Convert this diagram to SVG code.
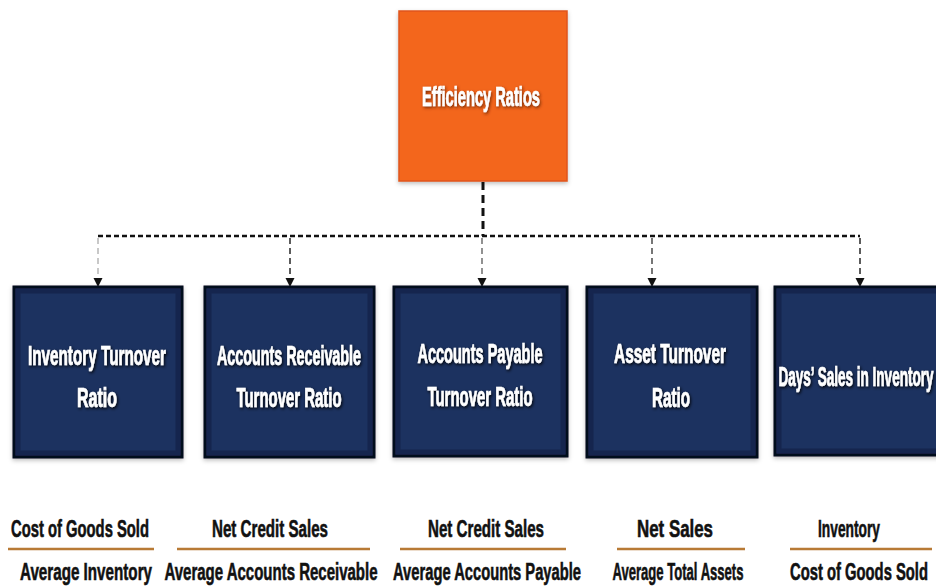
<svg xmlns="http://www.w3.org/2000/svg" width="936" height="588" viewBox="0 0 936 588">
  <style>
    .head { fill: #F3661F; stroke: #E0561A; stroke-width: 1.5; }
    .box { fill: #1F3161; stroke: #060B1C; stroke-width: 3; }
    .rim { fill: none; stroke: #14224A; stroke-width: 5; opacity: 0.8; }
    .lbl { font-family: "Liberation Sans", Arial, sans-serif; font-weight: bold; font-size: 28px; fill: #FFFFFF; stroke: #FFFFFF; stroke-width: 0.7; text-anchor: middle; }
    .fx { font-family: "Liberation Sans", Arial, sans-serif; font-weight: bold; font-size: 24px; fill: #111111; stroke: #111111; stroke-width: 0.6; text-anchor: middle; }
    .bar { stroke: #B87A35; stroke-width: 2.5; }
    .trunk { fill: none; stroke: #111111; stroke-width: 3; stroke-dasharray: 8 5; }
    .bus { fill: none; stroke: #111111; stroke-width: 2.5; stroke-dasharray: 5 3; }
    .drop { fill: none; stroke-width: 1.6; stroke-dasharray: 6 4; }
  </style>
  <defs>
    <filter id="glow" x="-20%" y="-40%" width="140%" height="180%">
      <feDropShadow dx="1" dy="1.5" stdDeviation="1.5" flood-color="#000000" flood-opacity="0.95"/>
    </filter>
    <filter id="warm" x="-20%" y="-40%" width="140%" height="180%">
      <feDropShadow dx="1" dy="1.5" stdDeviation="1.5" flood-color="#6A2200" flood-opacity="0.9"/>
    </filter>
    <filter id="soft" x="-10%" y="-10%" width="120%" height="125%">
      <feDropShadow dx="0" dy="2" stdDeviation="2" flood-color="#000000" flood-opacity="0.25"/>
    </filter>
    <marker id="tip" markerUnits="userSpaceOnUse" markerWidth="9" markerHeight="10" refX="9" refY="4.5" orient="auto">
      <path d="M0,0 L9,4.5 L0,9 z" fill="#111111"/>
    </marker>
  </defs>

  <!-- connectors: trunk from the head, shared bus, one drop per ratio -->
  <g id="connectors">
    <line class="trunk" x1="483" y1="182" x2="483" y2="236"/>
    <line class="bus" x1="98" y1="236" x2="860" y2="236"/>
    <line class="drop" stroke="#BBBBBB" x1="98" y1="238" x2="98" y2="287" marker-end="url(#tip)"/>
    <line class="drop" stroke="#333333" x1="290" y1="238" x2="290" y2="287" marker-end="url(#tip)"/>
    <line class="drop" stroke="#777777" x1="482" y1="238" x2="482" y2="287" marker-end="url(#tip)"/>
    <line class="drop" stroke="#555555" x1="652" y1="238" x2="652" y2="287" marker-end="url(#tip)"/>
    <line class="drop" stroke="#333333" x1="860" y1="238" x2="860" y2="287" marker-end="url(#tip)"/>
  </g>

  <g id="efficiency-ratios">
    <rect class="head" x="399" y="11" width="168" height="170" filter="url(#soft)"/>
    <text class="lbl" x="481" y="106" textLength="118" lengthAdjust="spacingAndGlyphs" filter="url(#warm)">Efficiency Ratios</text>
  </g>

  <g id="inventory-turnover">
    <rect class="box" x="14" y="287" width="168" height="170" filter="url(#soft)"/>
    <rect class="rim" x="18" y="291" width="160" height="162"/>
    <g filter="url(#glow)">
      <text class="lbl" x="97" y="365" textLength="138" lengthAdjust="spacingAndGlyphs">Inventory Turnover</text>
      <text class="lbl" x="97" y="407" textLength="40" lengthAdjust="spacingAndGlyphs">Ratio</text>
    </g>
    <text class="fx" x="80" y="537" textLength="138" lengthAdjust="spacingAndGlyphs">Cost of Goods Sold</text>
    <line class="bar" x1="8" y1="549" x2="154" y2="549"/>
    <text class="fx" x="86" y="580" textLength="132" lengthAdjust="spacingAndGlyphs">Average Inventory</text>
  </g>

  <g id="receivable-turnover">
    <rect class="box" x="205" y="287" width="169" height="170" filter="url(#soft)"/>
    <rect class="rim" x="209" y="291" width="161" height="162"/>
    <g filter="url(#glow)">
      <text class="lbl" x="289" y="365" textLength="144" lengthAdjust="spacingAndGlyphs">Accounts Receivable</text>
      <text class="lbl" x="289" y="407" textLength="105" lengthAdjust="spacingAndGlyphs">Turnover Ratio</text>
    </g>
    <text class="fx" x="270" y="537" textLength="116" lengthAdjust="spacingAndGlyphs">Net Credit Sales</text>
    <line class="bar" x1="177" y1="549" x2="370" y2="549"/>
    <text class="fx" x="271" y="580" textLength="213" lengthAdjust="spacingAndGlyphs">Average Accounts Receivable</text>
  </g>

  <g id="payable-turnover">
    <rect class="box" x="394" y="287" width="173" height="169" filter="url(#soft)"/>
    <rect class="rim" x="398" y="291" width="165" height="161"/>
    <g filter="url(#glow)">
      <text class="lbl" x="480" y="363" textLength="125" lengthAdjust="spacingAndGlyphs">Accounts Payable</text>
      <text class="lbl" x="480" y="406" textLength="105" lengthAdjust="spacingAndGlyphs">Turnover Ratio</text>
    </g>
    <text class="fx" x="486" y="537" textLength="116" lengthAdjust="spacingAndGlyphs">Net Credit Sales</text>
    <line class="bar" x1="400" y1="549" x2="566" y2="549"/>
    <text class="fx" x="487" y="580" textLength="188" lengthAdjust="spacingAndGlyphs">Average Accounts Payable</text>
  </g>

  <g id="asset-turnover">
    <rect class="box" x="587" y="287" width="170" height="170" filter="url(#soft)"/>
    <rect class="rim" x="591" y="291" width="162" height="162"/>
    <g filter="url(#glow)">
      <text class="lbl" x="670" y="363" textLength="112" lengthAdjust="spacingAndGlyphs">Asset Turnover</text>
      <text class="lbl" x="671" y="407" textLength="38" lengthAdjust="spacingAndGlyphs">Ratio</text>
    </g>
    <text class="fx" x="675" y="537" textLength="76" lengthAdjust="spacingAndGlyphs">Net Sales</text>
    <line class="bar" x1="617" y1="549" x2="745" y2="549"/>
    <text class="fx" x="678" y="580" textLength="131" lengthAdjust="spacingAndGlyphs">Average Total Assets</text>
  </g>

  <g id="days-sales-inventory">
    <rect class="box" x="775" y="287" width="170" height="168" filter="url(#soft)"/>
    <rect class="rim" x="779" y="291" width="162" height="160"/>
    <g filter="url(#glow)">
      <text class="lbl" x="856" y="386" textLength="155" lengthAdjust="spacingAndGlyphs">Days’ Sales in Inventory</text>
    </g>
    <text class="fx" x="849" y="537" textLength="62" lengthAdjust="spacingAndGlyphs">Inventory</text>
    <line class="bar" x1="790" y1="549" x2="932" y2="549"/>
    <text class="fx" x="859" y="580" textLength="138" lengthAdjust="spacingAndGlyphs">Cost of Goods Sold</text>
  </g>
</svg>
